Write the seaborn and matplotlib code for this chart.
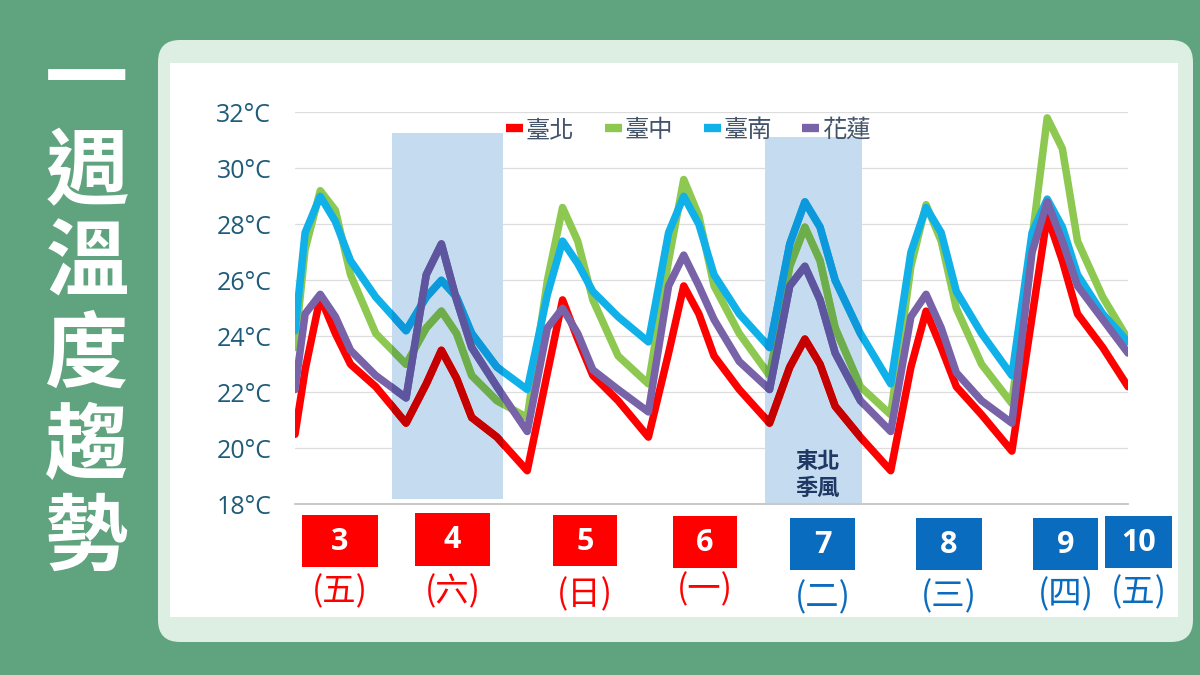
import matplotlib

matplotlib.use('Agg')
import matplotlib.pyplot as plt
from matplotlib.lines import Line2D
from matplotlib.patches import Rectangle, FancyBboxPatch
from matplotlib.transforms import IdentityTransform
import numpy as np
import pandas as pd
import seaborn as sns

# forecast hours, counted from day 3 00:00
hours = [7, 9, 12, 15, 18, 23,
         29, 33, 36, 39, 42, 47,
         53, 57, 60, 63, 66, 71,
         77, 81, 84, 87, 90, 95,
         101, 105, 108, 111, 114, 119,
         125, 129, 132, 135, 138, 143,
         149, 153, 156, 159, 162, 167,
         172]

taipei = [20.5, 22.8, 25.4, 24.1, 23.0, 22.2,
          20.9, 22.3, 23.5, 22.5, 21.1, 20.4,
          19.2, 22.7, 25.3, 23.9, 22.6, 21.7,
          20.4, 23.4, 25.8, 24.8, 23.3, 22.1,
          20.9, 22.9, 23.9, 23.0, 21.5, 20.4,
          19.2, 22.9, 24.9, 23.6, 22.2, 21.2,
          19.9, 24.7, 28.3, 26.7, 24.8, 23.6,
          22.2]
taichung = [23.6, 27.1, 29.2, 28.5, 26.2, 24.1,
            23.0, 24.3, 24.9, 24.1, 22.6, 21.7,
            21.1, 26.0, 28.6, 27.4, 25.3, 23.3,
            22.3, 26.7, 29.6, 28.3, 25.8, 24.1,
            22.6, 26.5, 27.9, 26.7, 24.3, 22.2,
            21.2, 26.5, 28.7, 27.4, 25.0, 23.0,
            21.6, 27.5, 31.8, 30.7, 27.4, 25.4,
            23.9]
tainan = [24.2, 27.7, 29.0, 28.1, 26.7, 25.4,
          24.2, 25.4, 26.0, 25.4, 24.1, 22.9,
          22.1, 25.5, 27.4, 26.6, 25.6, 24.7,
          23.8, 27.7, 29.0, 28.0, 26.2, 24.8,
          23.6, 27.3, 28.8, 27.9, 26.0, 24.1,
          22.3, 27.0, 28.6, 27.7, 25.6, 24.1,
          22.6, 27.7, 28.9, 27.9, 26.2, 24.8,
          23.8]
hualien = [22.1, 24.8, 25.5, 24.7, 23.5, 22.6,
           21.8, 26.2, 27.3, 25.3, 23.6, 22.2,
           20.6, 24.3, 25.0, 24.1, 22.8, 22.1,
           21.3, 25.8, 26.9, 25.8, 24.6, 23.1,
           22.1, 25.8, 26.5, 25.3, 23.4, 21.7,
           20.6, 24.7, 25.5, 24.3, 22.7, 21.7,
           20.9, 27.0, 28.8, 27.4, 25.8, 24.6,
           23.4]

cities = ['臺北', '臺中', '臺南', '花蓮']
city_colors = ['#FF0000', '#8DC850', '#10B0E8', '#7862A8']

# shaded periods (hour range, temp range)
shade_spans = [(26.2, 48.2, 18.2, 31.25), (100.1, 119.3, 18.05, 31.1)]
shade_color = '#C5DCF0'

y_ticks = [18, 20, 22, 24, 26, 28, 30, 32]

day_nums = ['3', '4', '5', '6', '7', '8', '9', '10']
weekdays = ['(五)', '(六)', '(日)', '(一)', '(二)', '(三)', '(四)', '(五)']
day_is_holiday = [True, True, True, True, False, False, False, False]

W, H = 1200, 675


def fx(px):
    return px / W


def fy(py):
    return 1 - py / H


sns.set_style('white')
plt.rcParams['font.family'] = ['Noto Sans CJK TC', 'DejaVu Sans']

fig = plt.figure(figsize=(12, 6.75), dpi=100)
fig.patch.set_facecolor('#5FA47E')

# light panel and white chart area (pixel coordinates, origin bottom left)
fig.add_artist(FancyBboxPatch((158, H - 642), 1035, 602,
                              boxstyle='round,pad=0,rounding_size=22',
                              transform=IdentityTransform(), fc='#DDEEE2', ec='none', zorder=0))
fig.add_artist(Rectangle((170, H - 617), 1008, 554, transform=IdentityTransform(),
                         fc='white', ec='none', zorder=0.5))

# vertical title
for i, ch in enumerate('一週溫度趨勢'):
    fig.text(fx(87), fy(82 + i * 91.5), ch, ha='center', va='center', color='white',
             fontsize=60, fontweight='bold')

ax = fig.add_axes([fx(295), fy(504.3), fx(1128 - 295), (504.3 - 112.3) / H])
ax.set_zorder(1)
ax.patch.set_alpha(0)

df = pd.concat([pd.DataFrame({'hour': hours, 'temp': vals, 'city': name})
                for name, vals in zip(cities, [taipei, taichung, tainan, hualien])])
palette = dict(zip(cities, city_colors))

line_kw = dict(lw=5.4, solid_joinstyle='round', solid_capstyle='round')
sns.lineplot(data=df, x='hour', y='temp', hue='city', palette=palette, sort=False,
             estimator=None, legend=False, ax=ax, zorder=3, **line_kw)

# shaded boxes, lines inside them look multiplied by the box colour
shade_rgb = np.array(matplotlib.colors.to_rgb(shade_color))
dark_palette = {c: tuple(np.array(matplotlib.colors.to_rgb(col)) * shade_rgb)
                for c, col in palette.items()}
for x0, x1, y0, y1 in shade_spans:
    rect = Rectangle((x0, y0), x1 - x0, y1 - y0, fc=shade_color, ec='none', zorder=2)
    ax.add_patch(rect)
    n0 = len(ax.lines)
    sns.lineplot(data=df, x='hour', y='temp', hue='city', palette=dark_palette, sort=False,
                 estimator=None, legend=False, ax=ax, zorder=4, **line_kw)
    for ln in ax.lines[n0:]:
        ln.set_clip_path(rect)

ax.set_xlim(hours[0], hours[-1])
ax.set_ylim(18, 32)
ax.set_yticks(y_ticks)
ax.set_yticklabels([f'{t}°C' for t in y_ticks], fontfamily='Open Sans')
ax.set_xticks([])
ax.tick_params(axis='y', length=0, pad=17, labelsize=18, labelcolor='#1F5C7A')
ax.set_xlabel('')
ax.set_ylabel('')
for t in y_ticks[1:]:
    ax.axhline(t, color='#DDDDDD', lw=0.9, zorder=1)
for s in ['top', 'right', 'left']:
    ax.spines[s].set_visible(False)
ax.spines['bottom'].set_color('#BFBFBF')
ax.spines['bottom'].set_linewidth(1.2)

handles = [Line2D([], [], color=c, lw=6, solid_capstyle='butt') for c in city_colors]
leg = fig.legend(handles, cities, ncol=4, loc='center left', bbox_to_anchor=(fx(506), fy(130)),
                 frameon=False, fontsize=17.5, labelcolor='#44546A', handlelength=0.7,
                 handletextpad=0.12, columnspacing=1.25, borderpad=0, borderaxespad=0)
leg.set_zorder(6)

fig.text(fx(818), fy(475), '東北\n季風', ha='center', va='center', color='#1F3864',
         fontsize=16, fontweight='bold', linespacing=1.25, zorder=5)

# day boxes under the chart
box_px = [(302, 378, 515, 567), (415, 490, 513, 566), (553, 617, 515, 566),
          (673, 737, 516, 568), (790, 855, 518, 570), (916, 982, 518, 570),
          (1033, 1098, 518, 570), (1105, 1172, 516, 568)]
weekday_y = [592, 592, 595, 590, 598, 597, 595, 593]
for (x0, x1, y0, y1), num, wd, hol, wy in zip(box_px, day_nums, weekdays, day_is_holiday, weekday_y):
    col = '#FF0000' if hol else '#0A6CBF'
    fig.add_artist(Rectangle((fx(x0), fy(y1)), fx(x1 - x0), (y1 - y0) / H,
                             transform=fig.transFigure, fc=col, ec='none', zorder=2))
    fig.text(fx((x0 + x1) / 2), fy((y0 + y1) / 2 + 1), num, ha='center', va='center',
             color='white', fontsize=22, fontweight='bold', fontfamily='Open Sans', zorder=3)
    fig.text(fx((x0 + x1) / 2), fy(wy), wd, ha='center', va='center', color=col,
             fontsize=24, zorder=3)

fig.savefig('out.png', dpi=100, facecolor=fig.get_facecolor())
